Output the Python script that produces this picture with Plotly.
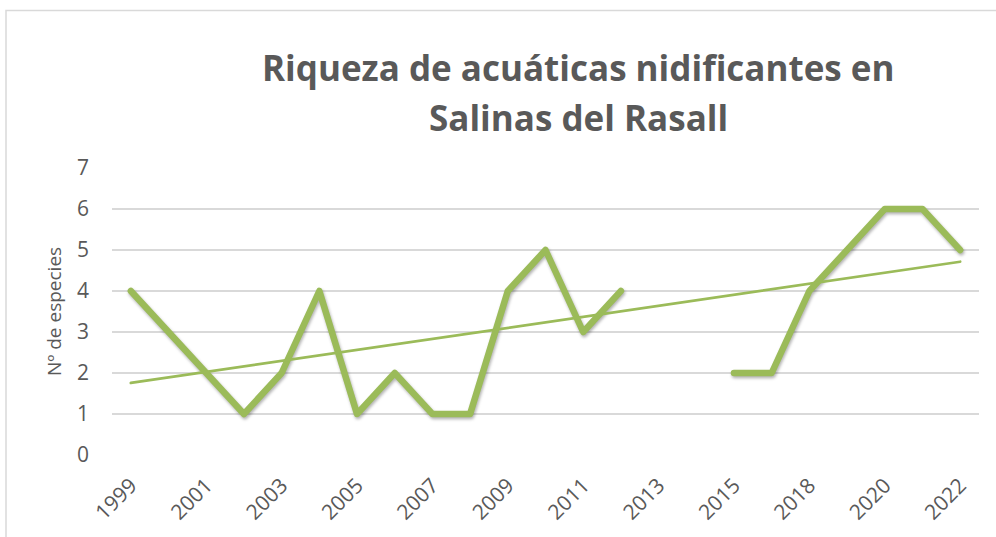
import numpy as np
import plotly.graph_objects as go

years = ["1999", "2000", "2001", "2002", "2003", "2004", "2005", "2006", "2007", "2008",
         "2009", "2010", "2011", "2012", "2013", "2014", "2015", "2016", "2018", "2019",
         "2020", "2021", "2022"]
species = [4, 3, 2, 1, 2, 4, 1, 2, 1, 1,
           4, 5, 3, 4, None, None, 2, 2, 4, 5,
           6, 6, 5]
tick_labels = years[::2]

title_lines = ["Riqueza de acuáticas nidificantes en", "Salinas del Rasall"]
y_title = "Nº de especies"

# linear trendline (least squares over category index, like Excel)
idx = np.arange(1, len(years) + 1)
mask = np.array([v is not None for v in species])
yv = np.array([v if v is not None else np.nan for v in species], dtype=float)
slope, intercept = np.polyfit(idx[mask], yv[mask], 1)
trend = slope * idx + intercept

green = "#9BBB59"
grey = "#595959"
font = "Open Sans, sans-serif"

fig = go.Figure()
fig.add_trace(go.Scatter(x=years, y=species, mode="lines",
                         line=dict(color=green, width=6.5),
                         connectgaps=False, showlegend=False, hoverinfo="x+y"))
fig.add_trace(go.Scatter(x=years, y=trend, mode="lines",
                         line=dict(color=green, width=2.75),
                         showlegend=False, hoverinfo="skip"))

L, R, T, B = 112, 17, 168, 82
W, H = 996, 537
pw = W - L - R
ph = H - T - B

def px_x(x):
    return (x - L) / pw

def px_y(y):
    return (H - B - y) / ph

title_tops = [41.5, 91.5]
annotations = [dict(text="<b>" + t + "</b>", xref="paper", yref="paper",
                    x=px_x(578), y=px_y(top), xanchor="center", yanchor="top",
                    showarrow=False, font=dict(family=font, size=35, color=grey))
               for t, top in zip(title_lines, title_tops)]

fig.update_layout(
    width=W, height=H,
    margin=dict(l=L, r=R, t=T, b=B),
    paper_bgcolor="white", plot_bgcolor="white",
    font=dict(family=font, color=grey, size=21),
    xaxis=dict(type="category", categoryorder="array", categoryarray=years,
               range=[-0.5, len(years) - 0.5],
               tickvals=tick_labels, ticktext=tick_labels, tickangle=-45,
               showgrid=False, zeroline=False, showline=False, ticks="",
               ticklabelstandoff=13,
               tickfont=dict(size=21, color=grey)),
    yaxis=dict(range=[0, 7], dtick=1, showgrid=True, gridcolor="#D9D9D9", gridwidth=1.5,
               zeroline=False, showline=False, ticks="",
               ticklabelstandoff=22,
               tickfont=dict(size=21, color=grey),
               title=dict(text=y_title, font=dict(size=19, color=grey), standoff=10)),
    annotations=annotations,
    shapes=[dict(type="rect", xref="paper", yref="paper",
                 x0=px_x(6), x1=px_x(1010),
                 y0=px_y(570), y1=px_y(10.5),
                 line=dict(color="#D9D9D9", width=1.5), fillcolor="rgba(0,0,0,0)",
                 layer="below")],
)

post = ("document.body.style.margin='0';"
        "var s=document.createElement('style');"
        "s.textContent='.js-line{stroke-linejoin:round;stroke-linecap:round;}"
        ".scatterlayer .trace:first-child .js-line{filter:drop-shadow(1.5px 2px 1.5px rgba(0,0,0,0.3));}';"
        "document.head.appendChild(s);")

fig.write_html("out.html", post_script=post, config={"displayModeBar": False})
